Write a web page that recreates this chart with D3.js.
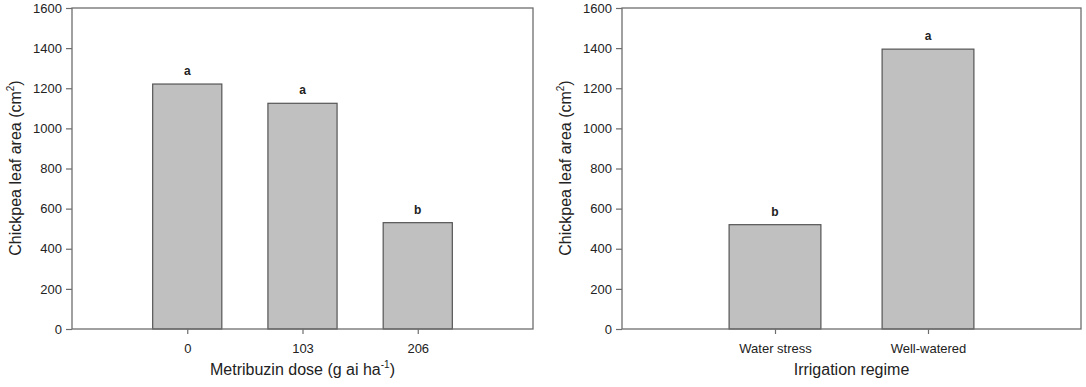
<!DOCTYPE html>
<html><head><meta charset="utf-8">
<script src="https://cdn.jsdelivr.net/npm/d3@7"></script>
<style>
body{margin:0;background:#fff;}
svg{display:block;font-family:"Liberation Sans",Arial,sans-serif;}
</style></head>
<body>
<svg id="c" width="1086" height="387"></svg>
<script>
const doseCategories = ["0", "103", "206"];
const doseValues = [1221, 1125, 530];
const doseLetters = ["a", "a", "b"];
const irrigationCategories = ["Water stress", "Well-watered"];
const irrigationValues = [520, 1395];
const irrigationLetters = ["b", "a"];
const yTicks = [0, 200, 400, 600, 800, 1000, 1200, 1400, 1600];

const svg = d3.select("#c");

function panel(opt) {
  const g = svg.append("g");
  const x = d3.scalePoint().domain(opt.cats).range([opt.x0, opt.x1]).padding(1);
  const y = d3.scaleLinear().domain([0, 1600]).range([329, 8]);
  const bw = x.step() * 0.6;
  const frame = "#6e6e6e";

  // bars
  g.selectAll("rect.bar").data(opt.cats).enter().append("rect")
    .attr("x", d => x(d) - bw / 2)
    .attr("y", (d, i) => y(opt.vals[i]))
    .attr("width", bw)
    .attr("height", (d, i) => y(0) - y(opt.vals[i]))
    .attr("fill", "#c0c0c0")
    .attr("stroke", "#555")
    .attr("stroke-width", 1.2);

  // letters
  g.selectAll("text.let").data(opt.cats).enter().append("text")
    .attr("x", d => x(d))
    .attr("y", (d, i) => y(opt.vals[i]) - 9)
    .attr("text-anchor", "middle")
    .attr("font-size", 12)
    .attr("font-weight", "bold")
    .attr("fill", "#222")
    .text((d, i) => opt.letters[i]);

  // frame
  g.append("rect").attr("x", opt.x0).attr("y", 8)
    .attr("width", opt.x1 - opt.x0).attr("height", 321)
    .attr("fill", "none").attr("stroke", frame).attr("stroke-width", 1.3);

  // y axis
  const ya = g.append("g").attr("transform", `translate(${opt.x0},0)`)
    .call(d3.axisLeft(y).tickValues(yTicks).tickSize(6).tickPadding(4).tickFormat(d3.format("d")));
  ya.select(".domain").remove();
  ya.selectAll("line").attr("stroke", frame).attr("stroke-width", 1.2);
  ya.selectAll("text").attr("font-size", 13).attr("fill", "#222").attr("font-family", "Liberation Sans, Arial, sans-serif");

  // x axis
  const xa = g.append("g").attr("transform", "translate(0,329)")
    .call(d3.axisBottom(x).tickSize(5).tickPadding(10));
  xa.select(".domain").remove();
  xa.selectAll("line").attr("stroke", frame).attr("stroke-width", 1.2);
  xa.selectAll("text").attr("font-size", 13).attr("fill", "#222").attr("font-family", "Liberation Sans, Arial, sans-serif");

  // y title
  const yt = g.append("text")
    .attr("transform", `translate(${opt.ytx},168) rotate(-90)`)
    .attr("text-anchor", "middle").attr("font-size", 16).attr("fill", "#222");
  yt.append("tspan").text("Chickpea leaf area (cm");
  yt.append("tspan").attr("font-size", 10).attr("dy", -7).text("2");
  yt.append("tspan").attr("dy", 7).text(")");

  // x title
  const xt = g.append("text")
    .attr("x", (opt.x0 + opt.x1) / 2).attr("y", 375)
    .attr("text-anchor", "middle").attr("font-size", 16).attr("fill", "#222");
  opt.xtitle(xt);
}

panel({
  cats: doseCategories, vals: doseValues, letters: doseLetters,
  x0: 72, x1: 533, ytx: 21,
  xtitle: t => {
    t.append("tspan").text("Metribuzin dose (g ai ha");
    t.append("tspan").attr("font-size", 10).attr("dy", -7).text("-1");
    t.append("tspan").attr("dy", 7).text(")");
  }
});

panel({
  cats: irrigationCategories, vals: irrigationValues, letters: irrigationLetters,
  x0: 622, x1: 1081, ytx: 571,
  xtitle: t => { t.text("Irrigation regime"); }
});
</script>
</body></html>
